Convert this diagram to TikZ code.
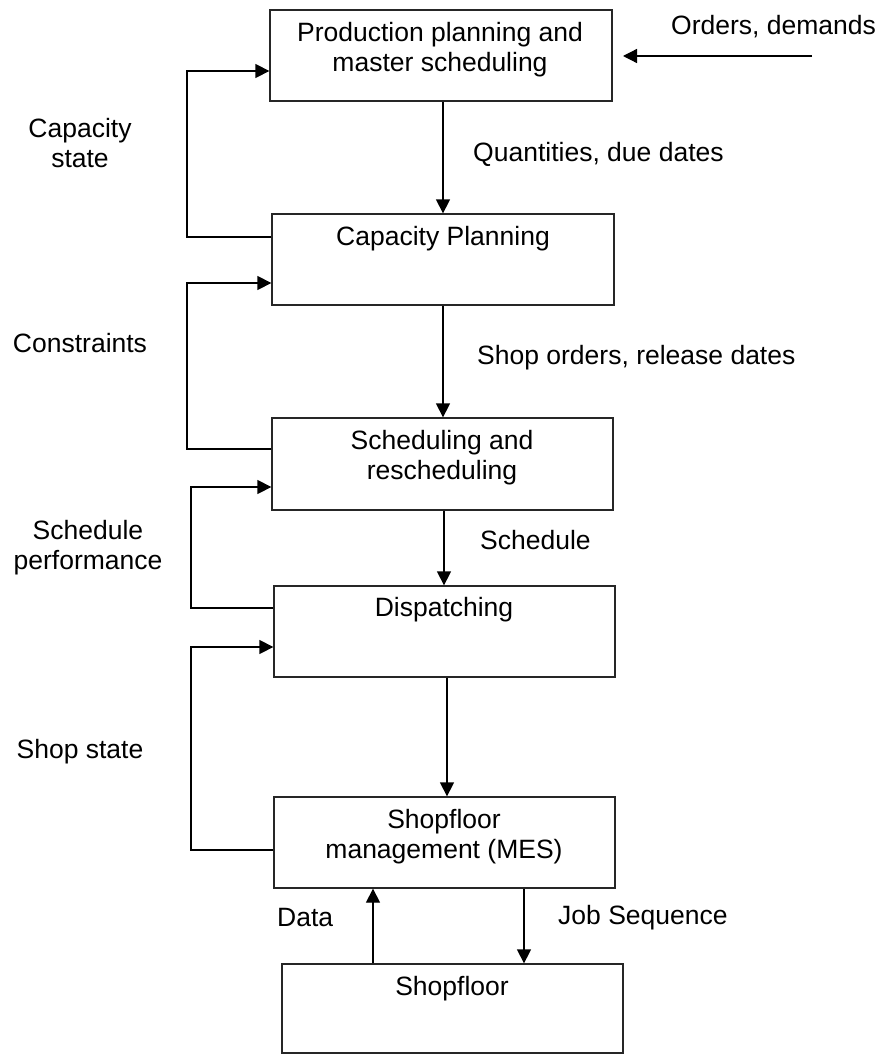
\documentclass[tikz,border=0pt]{standalone}
\usepackage{fontspec}
\setmainfont{Liberation Sans}
\usetikzlibrary{arrows.meta}
\begin{document}
\begin{tikzpicture}[x=1pt,y=-1pt,
  every node/.style={font=\fontsize{26.5}{30}\selectfont, inner sep=0pt},
  box/.style={draw=black!85, line width=1.3pt, minimum width=342pt, minimum height=91pt},
  txt/.style={align=center},
  lbl/.style={anchor=west},
  conn/.style={line width=1.3pt, -{Triangle[length=14pt,width=14pt]}}]
\useasboundingbox[fill=white] (0,0) rectangle (881,1054);
% boxes
\node[box] (b1) at (441,55.5) {};
\node[box] (b2) at (443,259.5) {};
\node[box, minimum width=341pt, minimum height=92pt] (b3) at (442.5,464) {};
\node[box, minimum width=341pt] (b4) at (444.5,631.5) {};
\node[box, minimum width=341pt] (b5) at (444.5,842.5) {};
\node[box, minimum width=341pt, minimum height=89pt] (b6) at (452.5,1008.5) {};
% box texts
\node[txt] (t1) at (440,50) {Production planning and\\master scheduling};
\node[txt] (t2) at (443,239) {Capacity Planning};
\node[txt] (t3) at (442,458) {Scheduling and\\rescheduling};
\node[txt] (t4) at (444,610) {Dispatching};
\node[txt] (t5) at (444,837) {Shopfloor\\management (MES)};
\node[txt] (t6) at (452,989) {Shopfloor};
% downward arrows
\draw[conn] (b1.south -| 443,0) -- (b2.north -| 443,0);
\draw[conn] (b2.south -| 443,0) -- (b3.north -| 443,0);
\draw[conn] (b3.south -| 444,0) -- (b4.north -| 444,0);
\draw[conn] (b4.south -| 447,0) -- (b5.north -| 447,0);
\draw[conn] (b5.south -| 524,0) -- (b6.north -| 524,0);
\draw[conn] (b6.north -| 373,0) -- (b5.south -| 373,0);
% orders input
\coordinate (oin) at (812,56);
\coordinate (oend) at (623,56);
\draw[conn] (oin) -- (oend);
% feedback loops
\draw[conn] (b2.west |- 0,237) -- (187,237) -- (187,71) -- (b1.west |- 0,71);
\draw[conn] (b3.west |- 0,449) -- (187,449) -- (187,283) -- (b2.west |- 0,283);
\draw[conn] (b4.west |- 0,608) -- (191,608) -- (191,487) -- (b3.west |- 0,487);
\draw[conn] (b5.west |- 0,850) -- (191,850) -- (191,647) -- (b4.west |- 0,647);
% labels
\node[lbl] (l1) at (671,27) {Orders, demands};
\node[lbl] (l2) at (473,154) {Quantities, due dates};
\node[lbl] (l3) at (477,358) {Shop orders, release dates};
\node[lbl] (l4) at (480,540) {Schedule};
\node[lbl] (l5) at (277,918) {Data};
\node[lbl] (l6) at (558,918) {Job Sequence};
\node[txt] (l7) at (80,143) {Capacity\\state};
\node[txt] (l8) at (80,343) {Constraints};
\node[txt] (l9) at (88,548) {Schedule\\performance};
\node[txt] (l10) at (80,752) {Shop state};
\end{tikzpicture}
\end{document}
